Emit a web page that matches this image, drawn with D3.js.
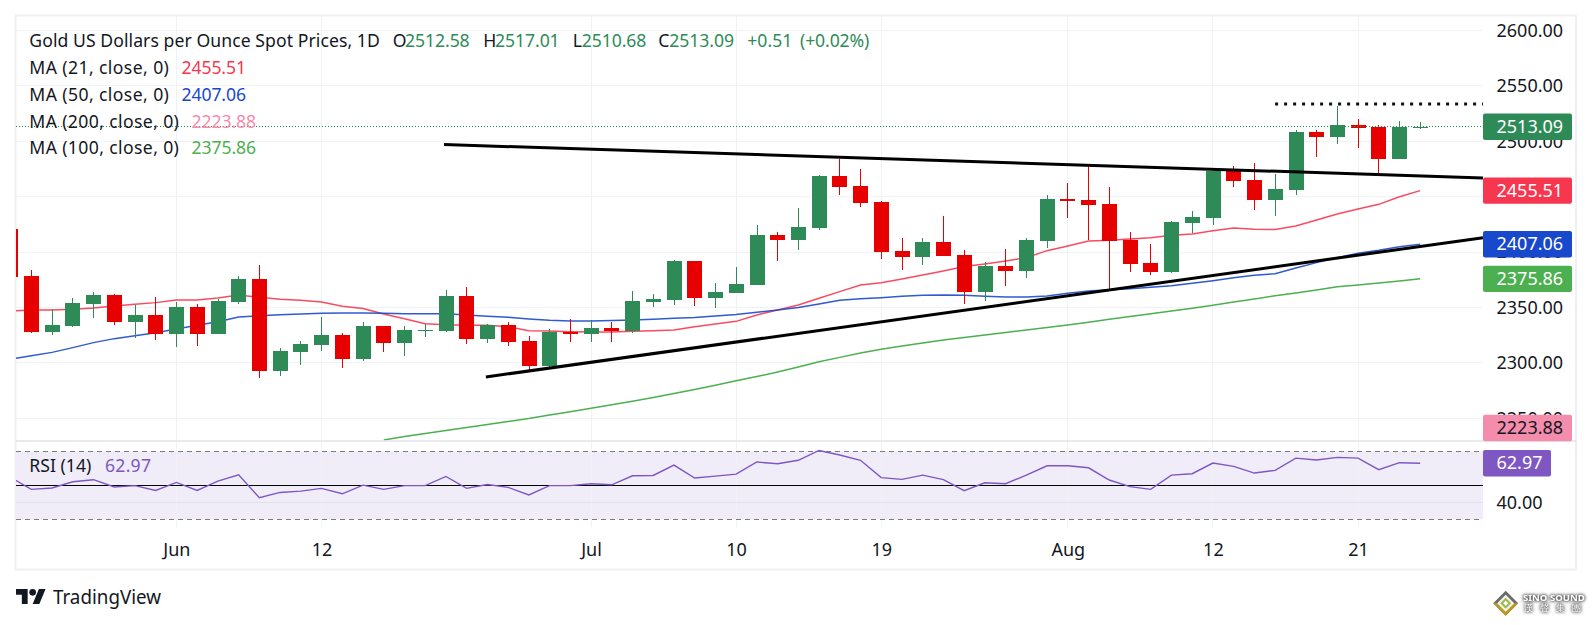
<!DOCTYPE html>
<html><head><meta charset="utf-8">
<style>html,body{margin:0;padding:0;background:#fff;overflow:hidden}svg{display:block}text{font-family:"Noto Sans",sans-serif}</style>
<script src="https://cdn.jsdelivr.net/npm/d3@7"></script></head><body>
<script>
// Daily bars; the first index (-1) is the partly hidden bar at the left edge.
const firstIndex = -1;
const opens = [2420.9,2378.4,2327.9,2333.3,2353.2,2361.3,2336.9,2343.2,2326.1,2350.5,2326.1,2355,2375.7,2292.7,2309.8,2316.2,2325.2,2303.5,2333.3,2318,2328.8,2328.8,2360.4,2321.6,2334.2,2319.8,2297.2,2327.9,2326.1,2331.5,2328.8,2355,2356.8,2392,2358.6,2363.1,2370.3,2415.5,2411,2421.8,2468.7,2459.7,2445.2,2401,2395.6,2409.1,2397.4,2364,2387.5,2382.9,2410,2447.9,2447,2443.4,2410.9,2390.2,2382,2426.3,2430.8,2473.2,2465.1,2447,2456.1,2508.4,2503.9,2514.7,2512.9,2484,2512.58];
const highs = [2420.9,2383.8,2348.4,2358.6,2364,2362.2,2352.3,2359.5,2355,2353.2,2357.7,2378.4,2388.4,2313.5,2319.8,2341.4,2327,2336.9,2333.3,2333.3,2335.1,2365.8,2368.5,2335.1,2336.9,2324.3,2330.6,2339.7,2338.8,2336.9,2364.9,2362.2,2392.9,2392,2372.1,2386.6,2424.5,2418.2,2439.8,2469.6,2484.1,2475,2446.1,2412.8,2412.8,2432.6,2401.9,2391.1,2402.8,2412.7,2451.5,2462.4,2477.7,2458.8,2418.1,2407.3,2428.1,2437.1,2473.2,2477.7,2480.4,2470.5,2510.2,2510.2,2531.9,2520.1,2514.7,2518.3,2517.01];
const lows = [2377.8,2327,2325.2,2332.4,2340.5,2334.2,2322.5,2320.7,2314.4,2315.3,2326.1,2353.2,2286.4,2288.2,2298.1,2310.7,2295.4,2301.7,2309.8,2306.2,2323.4,2327.9,2317.1,2318,2315.3,2293.6,2295.4,2318.9,2318.9,2318.9,2327,2350.5,2352.3,2351.4,2349.6,2363.1,2370.3,2392,2401.9,2420,2451.6,2440.7,2393.8,2383.9,2388.4,2396.5,2353.2,2355.9,2369.4,2376.6,2403.7,2430.8,2410.9,2364.9,2382,2379.3,2381.1,2417.2,2424.5,2458.8,2438,2432.6,2451.5,2485.8,2497.6,2494,2471.4,2484,2510.68];
const closes = [2377.8,2327.9,2334.2,2354.1,2361.3,2336.9,2343.2,2326.1,2350.5,2326.1,2355.9,2375.7,2292.7,2310.7,2317.1,2325.2,2303.5,2333.3,2318,2329.7,2329.7,2360.4,2321.6,2334.2,2318.9,2297.2,2327.9,2326.1,2331.5,2328.8,2355.9,2357.7,2392,2358.6,2364,2371.2,2415.5,2411,2422.7,2468.7,2458.8,2444.3,2400.1,2395.6,2409.1,2396.5,2364,2387.5,2382.9,2410.9,2447.9,2446.1,2442.5,2410,2389.3,2382,2427.2,2431.7,2473.2,2464.2,2447,2457,2508.4,2503.9,2514.7,2512,2484,2512.9,2513.09];
const ma21 = [2346.8,2347.8,2347.8,2348.4,2349.6,2351.4,2352.9,2354.4,2356.8,2356.8,2358.6,2361.3,2359.2,2357.4,2356.5,2355,2351.1,2349,2344.1,2339.9,2335.4,2334.5,2333.9,2333.9,2332.7,2329.1,2328.8,2328.2,2327.9,2327.9,2328.5,2329.1,2329.7,2332.7,2335.1,2337.5,2343.3,2347.8,2352.3,2358.3,2364.3,2370.3,2372.4,2375.8,2379.4,2383,2386.9,2389.3,2392,2395,2401.3,2405.5,2410,2410.6,2411.8,2413,2415.1,2416.3,2419.3,2421.8,2420.6,2420.3,2423.6,2429,2434.4,2438.9,2443.1,2450,2455.51];
const ma50 = [2303.5,2306.5,2309.5,2313.8,2318.3,2321.9,2324.6,2327.3,2330.6,2333.9,2337.2,2341.4,2342.6,2343.5,2344.1,2344.7,2345,2345,2344.7,2344.4,2344.4,2344.4,2343.2,2342,2341.2,2339.7,2338.5,2337.8,2337.8,2338.2,2338.8,2339.4,2340.3,2340.9,2342.4,2343.6,2345.7,2347.8,2349.9,2353.2,2356.5,2358,2358.9,2360.1,2361,2361.3,2361,2360.1,2359.5,2359.5,2360.4,2362.8,2364.9,2366.1,2367,2368.2,2369.7,2371.8,2374.2,2376.9,2379,2380.5,2385.7,2390.5,2395,2398.9,2401.6,2404.9,2407.06];
const ma100FirstIndex = 17;
const ma100 = [2230.4,2233.6,2236.3,2239,2241.7,2244.4,2247.1,2249.8,2253,2256,2259,2262.2,2265.3,2268.8,2272.4,2276,2279.8,2283.9,2287.7,2291.8,2296.3,2301,2305,2308.9,2312.3,2315.3,2318,2320.7,2322.9,2325.2,2327.4,2329.7,2332,2334.2,2336.7,2339.3,2341.8,2344.3,2346.8,2349.3,2352.1,2355,2357.7,2360.7,2363.1,2365.8,2368.8,2370.3,2372.1,2373.9,2375.86];
const rsi = [54.7,47.6,48.4,52.1,53.3,49,49.8,47,51.7,47,52.5,56.2,42.7,45.8,46.6,48.2,45,50.1,47.6,49.8,49.8,55.2,48.2,50.5,48.8,44.3,49.8,49.8,50.9,50.3,55.6,55.8,61.9,54.3,55.4,56.6,63.7,62.7,64.7,70.5,67.8,64.7,54.5,53.5,56,53.3,46.8,51.5,50.9,56,61.5,61.5,60.3,53.1,49.2,47.6,56,56.8,63.1,61.1,57.2,58.8,66,64.9,66.4,66,59.2,63.3,62.97];
// Drawn lines: [bar index, price]
const trendUpper = [[19.91,2497.1],[70.03,2466.9]];
const trendLower = [[21.93,2287.3],[70.03,2413]];
const resistanceDots = [[60,2533.7],[70.03,2533.7]];
const priceTicks = [2250,2300,2350,2400,2450,2500,2550,2600];
const rsiTicks = [40];
const rsiBands = [30,50,70];
const dateTickIndex = [7,14,27,34,41,50,57,64];
const dateTickLabels = ["Jun","12","Jul","10","19","Aug","12","21"];
const titleText = "Gold US Dollars per Ounce Spot Prices, 1D";
const ohlcLetters = ["O","H","L","C"];
const ohlcValues = ["2512.58","2517.01","2510.68","2513.09"];
const changeText = ["+0.51","(+0.02%)"];
const maNames = ["MA (21, close, 0)","MA (50, close, 0)","MA (200, close, 0)","MA (100, close, 0)"];
const maValues = ["2455.51","2407.06","2223.88","2375.86"];
const maColors = ["#f7374f","#1848cc","#f48cac","#4caf50"];

const FONT='"Noto Sans",sans-serif';
const W=1592,H=625,L=16,AX=1483,R=1576,T=15.5,DIV=441,BOT=526.7,END=569.5;
const UP="#2e8b57",DOWN="#e60000",INK="#131722",GRID="#f1f2f6",BAND="#787b86",PUR="#7e57c2";
const x=d3.scaleLinear().domain([0,67]).range([31.3,1420.2]);
const y=d3.scaleLinear().domain([2250,2600]).range([418.3,30.5]);
const ry=d3.scaleLinear().domain([30,70]).range([519.3,451.3]);
const px=i=>Math.floor(x(i)+.2);
const svg=d3.select("body").append("svg").attr("width",W).attr("height",H);
const defs=svg.append("defs");
defs.append("clipPath").attr("id","cm").append("rect").attr("x",L).attr("y",T).attr("width",AX-L).attr("height",DIV-T);
defs.append("clipPath").attr("id","cr").append("rect").attr("x",L).attr("y",DIV).attr("width",AX-L).attr("height",BOT-DIV);

// frame
svg.append("rect").attr("x",L-.5).attr("y",T).attr("width",R-L+.5).attr("height",END-T).attr("fill","#fff").attr("stroke","#eff0f5").attr("stroke-width",2);

// rsi zone
svg.append("rect").attr("x",L).attr("width",AX-L).attr("y",ry(70)).attr("height",ry(30)-ry(70)).attr("fill","#f0ecf8");

// grids
const gridG=svg.append("g").attr("shape-rendering","crispEdges");
gridG.selectAll("line.h").data(priceTicks).join("line").attr("x1",L).attr("x2",AX).attr("y1",d=>y(d)).attr("y2",d=>y(d)).attr("stroke",GRID);
gridG.selectAll("line.v").data(dateTickIndex).join("line").attr("x1",d=>x(d)).attr("x2",d=>x(d)).attr("y1",T).attr("y2",BOT).attr("stroke",GRID);
gridG.append("line").attr("x1",L).attr("x2",AX).attr("y1",ry(40)).attr("y2",ry(40)).attr("stroke","#e3e0ec");

// axes
const yAxis=d3.axisRight(y).tickValues(priceTicks).tickFormat(d3.format(".2f")).tickSize(0).tickPadding(13.5);
const axG=svg.append("g").attr("transform",`translate(${AX},0)`).call(yAxis);
const rAxis=d3.axisRight(ry).tickValues(rsiTicks).tickFormat(d3.format(".2f")).tickSize(0).tickPadding(13.5);
const raG=svg.append("g").attr("transform",`translate(${AX},0)`).call(rAxis);
const xAxis=d3.axisBottom(x).tickValues(dateTickIndex).tickFormat((d,i)=>dateTickLabels[i]).tickSize(0).tickPadding(17);
const xG=svg.append("g").attr("transform",`translate(0,${BOT})`).call(xAxis);
[axG,raG,xG].forEach(g=>{g.select(".domain").remove();g.selectAll("text").attr("font-family",FONT).attr("font-size",18).attr("fill",INK);});

const main=svg.append("g").attr("clip-path","url(#cm)");
const lineOf=(arr,start)=>d3.line().x((d,i)=>x(i+start)).y(d=>y(d))(arr);
main.append("path").attr("d",lineOf(ma21,firstIndex)).attr("fill","none").attr("stroke",maColors[0]).attr("stroke-width",1.5).attr("stroke-opacity",.9);
main.append("path").attr("d",lineOf(ma50,firstIndex)).attr("fill","none").attr("stroke",maColors[1]).attr("stroke-width",1.5).attr("stroke-opacity",.9);
main.append("path").attr("d",lineOf(ma100,ma100FirstIndex)).attr("fill","none").attr("stroke",maColors[3]).attr("stroke-width",1.5);

// candles
const bars=closes.map((c,k)=>({i:k+firstIndex,o:opens[k],h:highs[k],l:lows[k],c}));
const cg=main.append("g").attr("shape-rendering","crispEdges");
cg.selectAll("rect.w").data(bars).join("rect").attr("x",d=>px(d.i)).attr("width",1)
  .attr("y",d=>y(d.h)).attr("height",d=>y(d.l)-y(d.h)).attr("fill",d=>d.c>=d.o?UP:DOWN);
cg.selectAll("rect.b").data(bars).join("rect").attr("x",d=>px(d.i)-7).attr("width",15)
  .attr("y",d=>y(Math.max(d.o,d.c))).attr("height",d=>Math.max(1,Math.abs(y(d.o)-y(d.c)))).attr("fill",d=>d.c>=d.o?UP:DOWN);

// trendlines
const seg=d3.line().x(d=>x(d[0])).y(d=>y(d[1]));
const tl=svg.append("g");
tl.append("path").attr("d",seg(trendUpper)).attr("stroke","#000").attr("stroke-width",3).attr("fill","none");
tl.append("path").attr("d",seg(trendLower)).attr("stroke","#000").attr("stroke-width",3).attr("fill","none");
tl.append("path").attr("d",seg(resistanceDots)).attr("stroke","#111").attr("stroke-width",3).attr("stroke-dasharray","3 6").attr("fill","none");

// last price dotted line
const last=closes[closes.length-1];
svg.append("line").attr("x1",L).attr("x2",AX).attr("y1",y(last)).attr("y2",y(last)).attr("stroke",UP).attr("stroke-dasharray","1 2").attr("shape-rendering","crispEdges");

// rsi
const rp=svg.append("g").attr("clip-path","url(#cr)");
rsiBands.forEach(b=>{
  rp.append("line").attr("x1",L).attr("x2",AX).attr("y1",ry(b)).attr("y2",ry(b)).attr("shape-rendering","crispEdges")
    .attr("stroke",b===50?"#000":BAND).attr("stroke-dasharray",b===50?null:"5 4");
});
rp.append("path").attr("d",d3.line().x((d,i)=>x(i+firstIndex)).y(d=>ry(d))(rsi)).attr("fill","none").attr("stroke",PUR).attr("stroke-width",1.4);

// divider
svg.append("line").attr("x1",L).attr("x2",R).attr("y1",DIV).attr("y2",DIV).attr("stroke","#e0e3eb").attr("stroke-width",1.5);

// price tags
const tags=[[ohlcValues[3],y(last),UP,"#fff",89],[maValues[0],y(2455.51),maColors[0],"#fff",89],[maValues[1],y(2407.06),maColors[1],"#fff",89],[maValues[3],y(2375.86),maColors[3],"#fff",89],[maValues[2],428,maColors[2],INK,89],["62.97",ry(62.97),PUR,"#fff",68]];
tags.forEach(t=>{
  const g=svg.append("g");
  g.append("rect").attr("x",AX).attr("y",t[1]-13.2).attr("width",t[4]).attr("height",26.4).attr("rx",2).attr("fill",t[2]);
  g.append("text").attr("x",AX+13.5).attr("y",t[1]).attr("dy",".34em").attr("font-size",18).attr("fill",t[3]).text(t[0]);
});

// legend
const txt=(x0,yy,s,col,fs,tl)=>{const e=svg.append("text").attr("x",x0).attr("y",yy).attr("dy",".34em").attr("font-size",fs||17.6).attr("fill",col||INK).text(s);if(tl)e.attr("textLength",tl).attr("lengthAdjust","spacing");return e;};
txt(29.3,41,titleText,INK,17.6,350.5);
[392.7,483.3,572.7,658.3].forEach((p,i)=>txt(p,41,ohlcLetters[i],INK,17.6));
[405,495,581.7,669.3].forEach((p,i)=>txt(p,41,ohlcValues[i],UP,17.6,64.7));
txt(747.3,41,changeText[0],UP,17.6);
txt(800,41,changeText[1],UP,17.6,69.3);
const rowY=[68,95,122,148.5],valX=[181.5,181.5,191.6,191.6],nameW=[139.6,139.6,149.6,149.6];
maNames.forEach((n,i)=>{txt(29.3,rowY[i],n,INK,17.6,nameW[i]);txt(valX[i],rowY[i],maValues[i],maColors[i],17.6,64.5);});
txt(29.3,466,"RSI (14)",INK,17.6,62);
txt(105,466,"62.97",PUR,17.6,46);

// TradingView mark
const tv=svg.append("g").attr("transform","translate(16,585.7) scale(.833)").attr("fill",INK);
tv.append("path").attr("d","M14 22H7V11H0V4h14v18zM28 22h-8l7.5-18h8L28 22z");
tv.append("circle").attr("cx",20).attr("cy",8).attr("r",4);
svg.append("text").attr("x",53).attr("y",598).attr("dy",".34em").attr("font-size",19).attr("fill",INK).attr("textLength",108).attr("lengthAdjust","spacingAndGlyphs").text("TradingView");

// Sino Sound watermark
const cx=1505.7,cy=603.3,s=svg.append("g");
const dia=(r)=>`${cx},${cy-r} ${cx+r},${cy} ${cx},${cy+r} ${cx-r},${cy}`;
s.append("polygon").attr("points",dia(12.5)).attr("fill","#6b6b6b");
s.append("polygon").attr("points",`${cx-12.5},${cy} ${cx+12.5},${cy} ${cx},${cy+12.5}`).attr("fill","#b89b20");
s.append("polygon").attr("points",dia(8.5)).attr("fill","#f3f3ee");
s.append("polygon").attr("points",dia(5.5)).attr("fill","#9dbb4e");
s.append("polygon").attr("points",dia(2.5)).attr("fill","#fff");
const wm=svg.append("g").attr("fill","#fff").style("filter","drop-shadow(0 0 1.5px #444) drop-shadow(0 0 1.5px #666)");
wm.append("text").attr("x",1523).attr("y",598).attr("dy",".36em").attr("font-size",9.6).attr("font-weight",700).attr("font-family",'"Liberation Sans",sans-serif').text("SINO SOUND");
wm.append("text").attr("x",1524).attr("y",607.5).attr("dy",".36em").attr("font-size",9).attr("letter-spacing",7).attr("font-family",'"Noto Sans CJK TC",sans-serif').text("漢聲集團");
</script></body></html>
